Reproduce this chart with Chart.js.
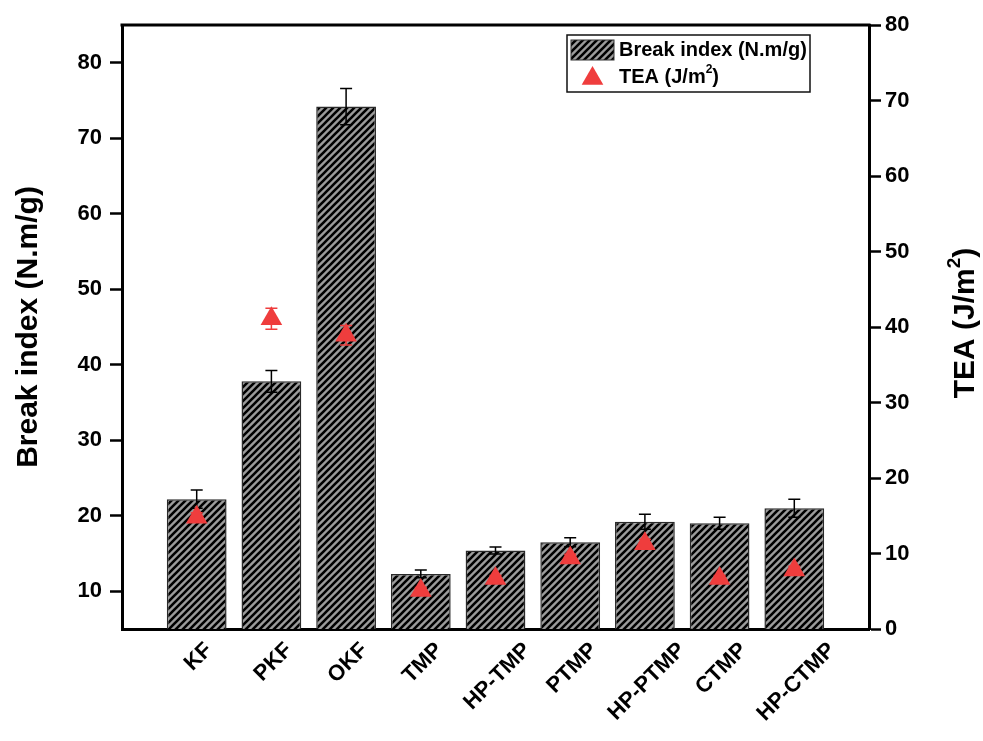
<!DOCTYPE html>
<html>
<head>
<meta charset="utf-8">
<title>Break index and TEA</title>
<script src="https://cdn.jsdelivr.net/npm/chart.js@4.4.1/dist/chart.umd.min.js"></script>
<style>
  html, body { margin: 0; padding: 0; background: #fff; }
  canvas { display: block; }
</style>
</head>
<body>
<canvas id="breakChart" width="983" height="741"></canvas>
<script>
const pulps = ['KF', 'PKF', 'OKF', 'TMP', 'HP-TMP', 'PTMP', 'HP-PTMP', 'CTMP', 'HP-CTMP'];
const breakIndex = [22.2, 37.8, 74.2, 12.3, 15.4, 16.5, 19.2, 19.0, 21.0];
const breakIndexErr = [1.2, 1.45, 2.4, 0.5, 0.45, 0.6, 1.0, 0.8, 1.2];
const tea = [14.8, 41.1, 38.9, 5.1, 6.7, 9.4, 11.3, 6.7, 7.8];
const teaErr = [0.6, 1.4, 1.3, 0.4, 0.4, 0.5, 0.6, 0.4, 0.5];
const leftTicks = [10, 20, 30, 40, 50, 60, 70, 80];
const rightTicks = [0, 10, 20, 30, 40, 50, 60, 70, 80];

const FONT = '"Liberation Sans", Arial, sans-serif';
const RED = '#ef3d3d';

// one empty slot on each side so the bars sit one step in from the frame
const labels = ['', ...pulps, ''];
const pad = arr => [null, ...arr, null];

const canvas = document.getElementById('breakChart');
const ctx = canvas.getContext('2d');

// grey bars with black "/" stripes
function makeHatch() {
    const size = 7;
    const tile = document.createElement('canvas');
    tile.width = size;
    tile.height = size;
    const c = tile.getContext('2d');
    c.fillStyle = '#9b9b9b';
    c.fillRect(0, 0, size, size);
    c.strokeStyle = '#000';
    c.lineWidth = 2.6;
    c.beginPath();
    c.moveTo(-1, size + 1); c.lineTo(size + 1, -1);
    c.moveTo(-2, 2); c.lineTo(2, -2);
    c.moveTo(size - 2, size + 2); c.lineTo(size + 2, size - 2);
    c.stroke();
    return ctx.createPattern(tile, 'repeat');
}
const hatch = makeHatch();

function drawErrors(c, xScale, yScale, values, errs, color) {
    c.save();
    c.strokeStyle = color;
    c.lineWidth = 1.5;
    values.forEach((v, i) => {
        const px = xScale.getPixelForValue(i + 1);
        const top = yScale.getPixelForValue(v + errs[i]);
        const bot = yScale.getPixelForValue(v - errs[i]);
        c.beginPath();
        c.moveTo(px, top); c.lineTo(px, bot);
        c.moveTo(px - 6, top); c.lineTo(px + 6, top);
        c.moveTo(px - 6, bot); c.lineTo(px + 6, bot);
        c.stroke();
    });
    c.restore();
}

// text with a raised "2", drawn from its left end
function supText(c, pre, sup, post, x, y, size) {
    c.font = `bold ${size}px ${FONT}`;
    const w1 = c.measureText(pre).width;
    c.font = `bold ${Math.round(size * 0.62)}px ${FONT}`;
    const w2 = c.measureText(sup).width;
    c.font = `bold ${size}px ${FONT}`;
    const w3 = c.measureText(post).width;
    const total = w1 + w2 + w3;
    return {
        width: total,
        draw(ox) {
            c.font = `bold ${size}px ${FONT}`;
            c.fillText(pre, ox, y);
            c.font = `bold ${Math.round(size * 0.62)}px ${FONT}`;
            c.fillText(sup, ox + w1, y - size * 0.36);
            c.font = `bold ${size}px ${FONT}`;
            c.fillText(post, ox + w1 + w2, y);
        }
    };
}

const errorBars = {
    id: 'errorBars',
    afterDatasetDraw(chart, args) {
        if (args.index === 0) {
            drawErrors(chart.ctx, chart.scales.x, chart.scales.y, breakIndex, breakIndexErr, '#000');
        }
    },
    beforeDatasetDraw(chart, args) {
        if (args.index === 1) {
            drawErrors(chart.ctx, chart.scales.x, chart.scales.y1, tea, teaErr, RED);
        }
    }
};

// category names at 45 degrees, each centred under its bar, hanging from a common top line
const slantedLabels = {
    id: 'slantedLabels',
    afterDraw(chart) {
        const c = chart.ctx;
        const xs = chart.scales.x;
        const size = 22;
        const top = xs.top + 12;
        const k = Math.SQRT1_2;
        c.save();
        c.font = `bold ${size}px ${FONT}`;
        c.fillStyle = '#000';
        c.textAlign = 'center';
        c.textBaseline = 'middle';
        pulps.forEach((name, i) => {
            const px = xs.getPixelForValue(i + 1) + 2;
            const w = c.measureText(name).width;
            const box = (w + size * 0.72) * k;
            c.save();
            c.translate(px, top + box / 2);
            c.rotate(-Math.PI / 4);
            c.fillText(name, 0, 0);
            c.restore();
        });
        c.restore();
    }
};

const frameAndLegend = {
    id: 'frameAndLegend',
    afterDraw(chart) {
        const c = chart.ctx;
        const area = chart.chartArea;
        c.save();

        // top edge of the frame
        c.strokeStyle = '#000';
        c.lineWidth = 3;
        c.beginPath();
        c.moveTo(area.left - 1.5, area.top);
        c.lineTo(area.right + 1.5, area.top);
        c.stroke();

        // legend box
        c.lineWidth = 1.5;
        c.strokeStyle = '#111';
        c.strokeRect(567, 35, 243, 57);
        c.fillStyle = hatch;
        c.fillRect(571, 40, 43, 20);
        c.lineWidth = 1;
        c.strokeStyle = '#333';
        c.strokeRect(571, 40, 43, 20);
        c.fillStyle = RED;
        Chart.helpers.drawPoint(c, { pointStyle: 'triangle', radius: 12.5, rotation: 0, borderWidth: 0 }, 592.5, 78.5);

        c.fillStyle = '#000';
        c.textBaseline = 'middle';
        c.textAlign = 'left';
        c.font = `bold 20px ${FONT}`;
        c.fillText('Break index (N.m/g)', 619, 50);
        supText(c, 'TEA (J/m', '2', ')', 0, 77, 20).draw(619);

        // right axis title, reading bottom to top
        c.translate(966, (area.top + area.bottom) / 2 - 4);
        c.rotate(-Math.PI / 2);
        const t = supText(c, 'TEA (J/m', '2', ')', 0, 0, 30);
        t.draw(-t.width / 2);
        c.restore();
    }
};

const tickFont = { family: FONT, size: 22, weight: 'bold' };

new Chart(ctx, {
    data: {
        labels: labels,
        datasets: [{
            type: 'bar',
            label: 'Break index (N.m/g)',
            data: pad(breakIndex),
            yAxisID: 'y',
            backgroundColor: hatch,
            borderColor: '#2a2a2a',
            borderWidth: 1.5,
            categoryPercentage: 0.8,
            barPercentage: 1.0,
            order: 2
        }, {
            type: 'line',
            label: 'TEA (J/m²)',
            data: pad(tea),
            yAxisID: 'y1',
            showLine: false,
            pointStyle: 'triangle',
            pointRadius: 12.5,
            pointBorderWidth: 0,
            pointBackgroundColor: RED,
            order: 1
        }]
    },
    options: {
        responsive: false,
        animation: false,
        events: [],
        layout: { padding: { top: 25, left: 0, right: 0, bottom: 0 } },
        plugins: {
            legend: { display: false },
            tooltip: { enabled: false }
        },
        scales: {
            x: {
                type: 'category',
                offset: false,
                grid: { display: false },
                border: { display: true, color: '#000', width: 3 },
                ticks: { display: false, autoSkip: false },
                afterFit: s => { s.height = 112; }
            },
            y: {
                position: 'left',
                min: 5,
                max: 85,
                afterBuildTicks: s => { s.ticks = leftTicks.map(v => ({ value: v })); },
                grid: { drawOnChartArea: false, tickLength: 12, tickWidth: 2.5, tickColor: '#000', color: '#000' },
                border: { display: true, color: '#000', width: 3 },
                ticks: { font: tickFont, color: '#000', padding: 8 },
                title: {
                    display: true,
                    text: 'Break index (N.m/g)',
                    color: '#000',
                    font: { family: FONT, size: 30, weight: 'bold', lineHeight: 1 },
                    padding: { top: 14, bottom: 0 }
                },
                afterFit: s => { s.width = 122; }
            },
            y1: {
                position: 'right',
                min: 0,
                max: 80,
                afterBuildTicks: s => { s.ticks = rightTicks.map(v => ({ value: v })); },
                grid: { drawOnChartArea: false, tickLength: 12, tickWidth: 2.5, tickColor: '#000', color: '#000' },
                border: { display: true, color: '#000', width: 3 },
                ticks: { font: tickFont, color: '#000', padding: 4 },
                afterFit: s => { s.width = 114; }
            }
        }
    },
    plugins: [errorBars, slantedLabels, frameAndLegend]
});
</script>
</body>
</html>
